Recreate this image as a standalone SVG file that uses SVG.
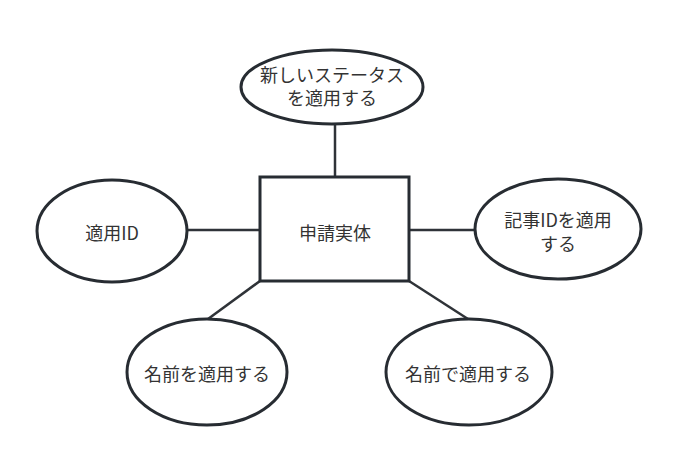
<svg xmlns="http://www.w3.org/2000/svg" width="679" height="462" viewBox="0 0 679 462">
<style>
.shape{fill:#ffffff;stroke:#272c32;stroke-width:3}
.conn{stroke:#2f3338;stroke-width:2.5;fill:none}
text{font-family:"Noto Sans CJK JP","Noto Sans",sans-serif;font-size:18px;fill:#333333;text-anchor:middle;dominant-baseline:central}
</style>
<rect width="679" height="462" fill="#ffffff"/>
<g id="connectors">
<line class="conn" x1="335" y1="123" x2="335" y2="177"/>
<line class="conn" x1="188" y1="230" x2="260" y2="230"/>
<line class="conn" x1="409" y1="230" x2="475" y2="230"/>
<line class="conn" x1="260" y1="281" x2="208" y2="319"/>
<line class="conn" x1="409" y1="281" x2="468" y2="319"/>
</g>
<g id="entity">
<rect class="shape" x="260" y="177" width="149" height="104"/>
<text x="335" y="232">申請実体</text>
</g>
<g id="status">
<ellipse class="shape" cx="332" cy="87" rx="91" ry="37"/>
<text x="332" y="74">新しいステータス</text>
<text x="332" y="97">を適用する</text>
</g>
<g id="applyId">
<ellipse class="shape" cx="112" cy="231" rx="75" ry="51"/>
<text x="112" y="232">適用ID</text>
</g>
<g id="articleId">
<ellipse class="shape" cx="558" cy="229" rx="83" ry="50"/>
<text x="558" y="219">記事IDを適用</text>
<text x="558" y="243">する</text>
</g>
<g id="nameWo">
<ellipse class="shape" cx="207" cy="372" rx="80" ry="53"/>
<text x="207" y="373">名前を適用する</text>
</g>
<g id="nameDe">
<ellipse class="shape" cx="469" cy="372" rx="83" ry="53"/>
<text x="468" y="373">名前で適用する</text>
</g>
</svg>
